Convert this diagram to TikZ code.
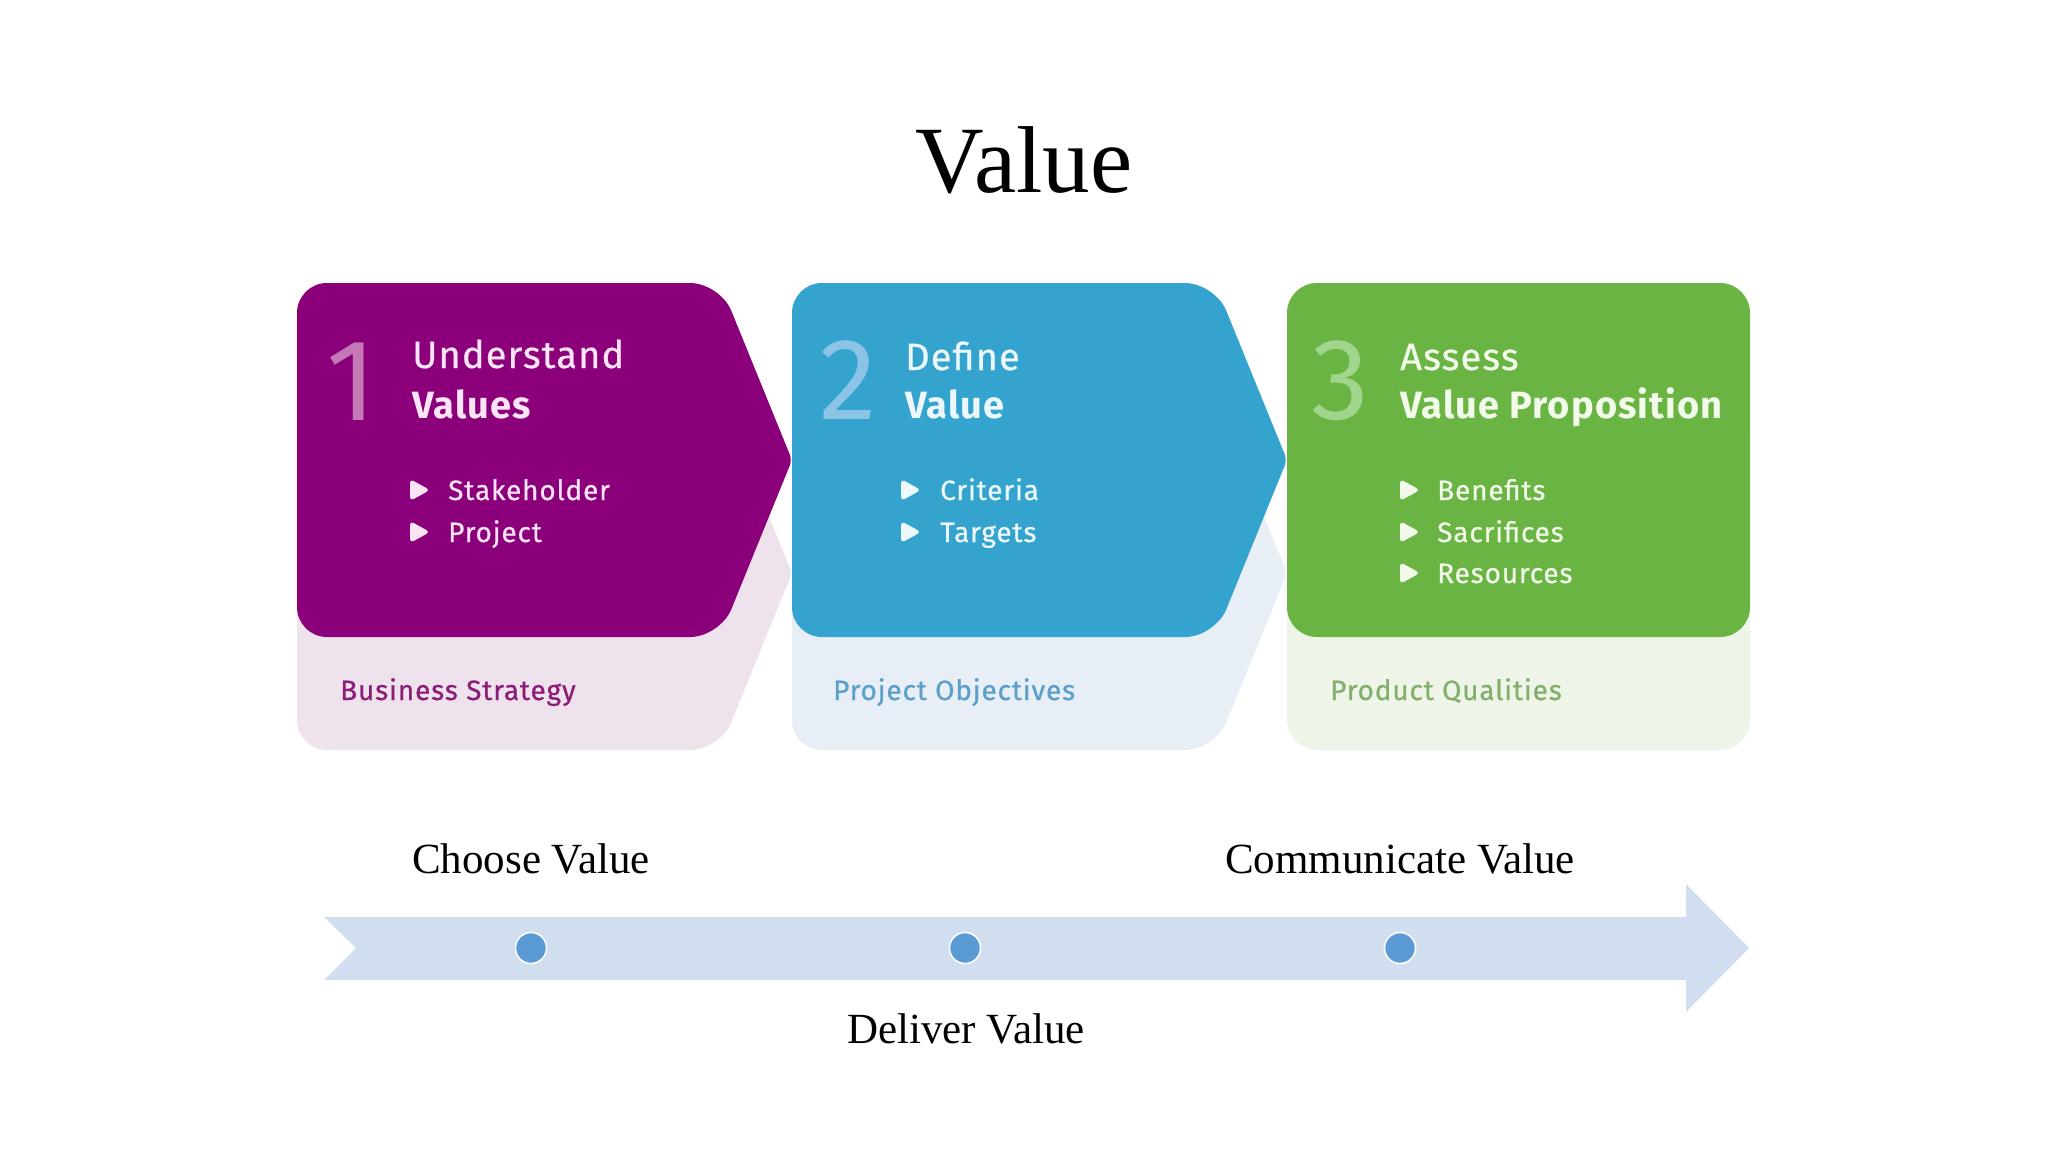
\documentclass[tikz,border=0pt]{standalone}
\usepackage{fontspec}
\setmainfont{Liberation Serif}
\newfontfamily\dinfont{Fira Sans}[LetterSpace=3]
\newfontfamily\dinmed{Fira Sans}[LetterSpace=3, FakeBold=0.6]
\definecolor{purp}{RGB}{139,0,122}
\definecolor{blu}{RGB}{52,163,206}
\definecolor{grn}{RGB}{106,180,68}
\definecolor{palepurp}{RGB}{238,226,236}
\definecolor{paleblu}{RGB}{231,238,246}
\definecolor{palegrn}{RGB}{239,244,233}
\definecolor{numpurp}{RGB}{196,120,182}
\definecolor{numblu}{RGB}{140,196,230}
\definecolor{numgrn}{RGB}{160,214,140}
\definecolor{txtpurp}{RGB}{250,228,246}
\definecolor{txtblu}{RGB}{236,248,252}
\definecolor{txtgrn}{RGB}{242,251,234}
\definecolor{subpurp}{RGB}{140,30,120}
\definecolor{subblu}{RGB}{90,160,200}
\definecolor{subgrn}{RGB}{130,175,105}
\definecolor{arrowblu}{RGB}{208,222,239}
\definecolor{dotblu}{RGB}{91,155,213}
\tikzset{
  numtxt/.style={anchor=base, inner sep=0pt, font=\dinfont\fontsize{116}{116}\selectfont},
  headtxt/.style={anchor=base west, inner sep=0pt, font=\dinmed\fontsize{38}{40}\selectfont},
  headbold/.style={anchor=base west, inner sep=0pt, font=\dinfont\bfseries\fontsize{38}{40}\selectfont},
  itemtxt/.style={anchor=base west, inner sep=0pt, font=\dinmed\fontsize{28}{30}\selectfont},
  subtxt/.style={anchor=base west, inner sep=0pt, font=\dinmed\fontsize{28}{30}\selectfont},
  serlabel/.style={anchor=base, inner sep=0pt, font=\fontsize{43}{46}\selectfont},
  dotmark/.style={circle, minimum size=31pt, inner sep=0pt, fill=dotblu, draw=white, line width=1.5pt},
}
\newcommand\chevshape{(0,460) [rounded corners=30pt] -- (0,283) -- (423,283) [rounded corners=6pt] -- (495,460) [rounded corners=30pt] -- (423,637) -- (0,637) -- cycle}
\newcommand\bulletmark[3]{\fill[#3, rounded corners=4pt] (#1,#2-21) -- (#1+20,#2-10) -- (#1,#2+1) -- cycle;}
\begin{document}
\begin{tikzpicture}[x=1pt, y=-1pt]
\useasboundingbox (0,0) rectangle (2048,1152);
% title
\node[anchor=base, inner sep=0pt, font=\fontsize{95}{100}\selectfont] (title) at (1024,192) {Value};

% pale lower shapes
\begin{scope}[shift={(297,113)}]
  \fill[palepurp] \chevshape;
\end{scope}
\begin{scope}[shift={(792,113)}]
  \fill[paleblu] \chevshape;
\end{scope}
\fill[palegrn, rounded corners=30pt] (1287,396) rectangle (1750,750);

% main shapes
\begin{scope}[shift={(297,0)}]
  \fill[purp] \chevshape;
\end{scope}
\begin{scope}[shift={(792,0)}]
  \fill[blu] \chevshape;
\end{scope}
\fill[grn, rounded corners=30pt] (1287,283) rectangle (1750,637);

% panel 1
\node[numtxt, text=numpurp] (n1) at (352,420) {1};
\node[headtxt, text=txtpurp] (h1a) at (412,368) {Understand};
\node[headbold, text=txtpurp] (h1b) at (412,418) {Values};
\bulletmark{410}{500}{txtpurp}
\bulletmark{410}{542}{txtpurp}
\node[itemtxt, text=txtpurp] (i1a) at (448,500) {Stakeholder};
\node[itemtxt, text=txtpurp] (i1b) at (448,542) {Project};
\node[subtxt, text=subpurp] (s1) at (340,700) {Business Strategy};

% panel 2
\node[numtxt, text=numblu] (n2) at (848,419) {2};
\node[headtxt, text=txtblu] (h2a) at (905,370) {Define};
\node[headbold, text=txtblu] (h2b) at (905,418) {Value};
\bulletmark{901}{500}{txtblu}
\bulletmark{901}{542}{txtblu}
\node[itemtxt, text=txtblu] (i2a) at (940,500) {Criteria};
\node[itemtxt, text=txtblu] (i2b) at (940,542) {Targets};
\node[subtxt, text=subblu] (s2) at (833,700) {Project Objectives};

% panel 3
\node[numtxt, text=numgrn] (n3) at (1340,419) {3};
\node[headtxt, text=txtgrn] (h3a) at (1400,370) {Assess};
\node[headbold, text=txtgrn] (h3b) at (1400,418) {Value Proposition};
\bulletmark{1400}{500}{txtgrn}
\bulletmark{1400}{542}{txtgrn}
\bulletmark{1400}{583}{txtgrn}
\node[itemtxt, text=txtgrn] (i3a) at (1437,500) {Benefits};
\node[itemtxt, text=txtgrn] (i3b) at (1437,542) {Sacrifices};
\node[itemtxt, text=txtgrn] (i3c) at (1437,583) {Resources};
\node[subtxt, text=subgrn] (s3) at (1330,700) {Product Qualities};

% timeline arrow
\fill[arrowblu] (324,917) -- (1686,917) -- (1686,884) -- (1749,948) -- (1686,1012) -- (1686,980) -- (324,980) -- (356,948) -- cycle;
\node[dotmark] (d1) at (531,948) {};
\node[dotmark] (d2) at (965,948) {};
\node[dotmark] (d3) at (1400,948) {};
\node[serlabel] (l1) at (531,873) {Choose Value};
\node[serlabel] (l2) at (1400,873) {Communicate Value};
\node[serlabel] (l3) at (966,1043) {Deliver Value};
\end{tikzpicture}
\end{document}
